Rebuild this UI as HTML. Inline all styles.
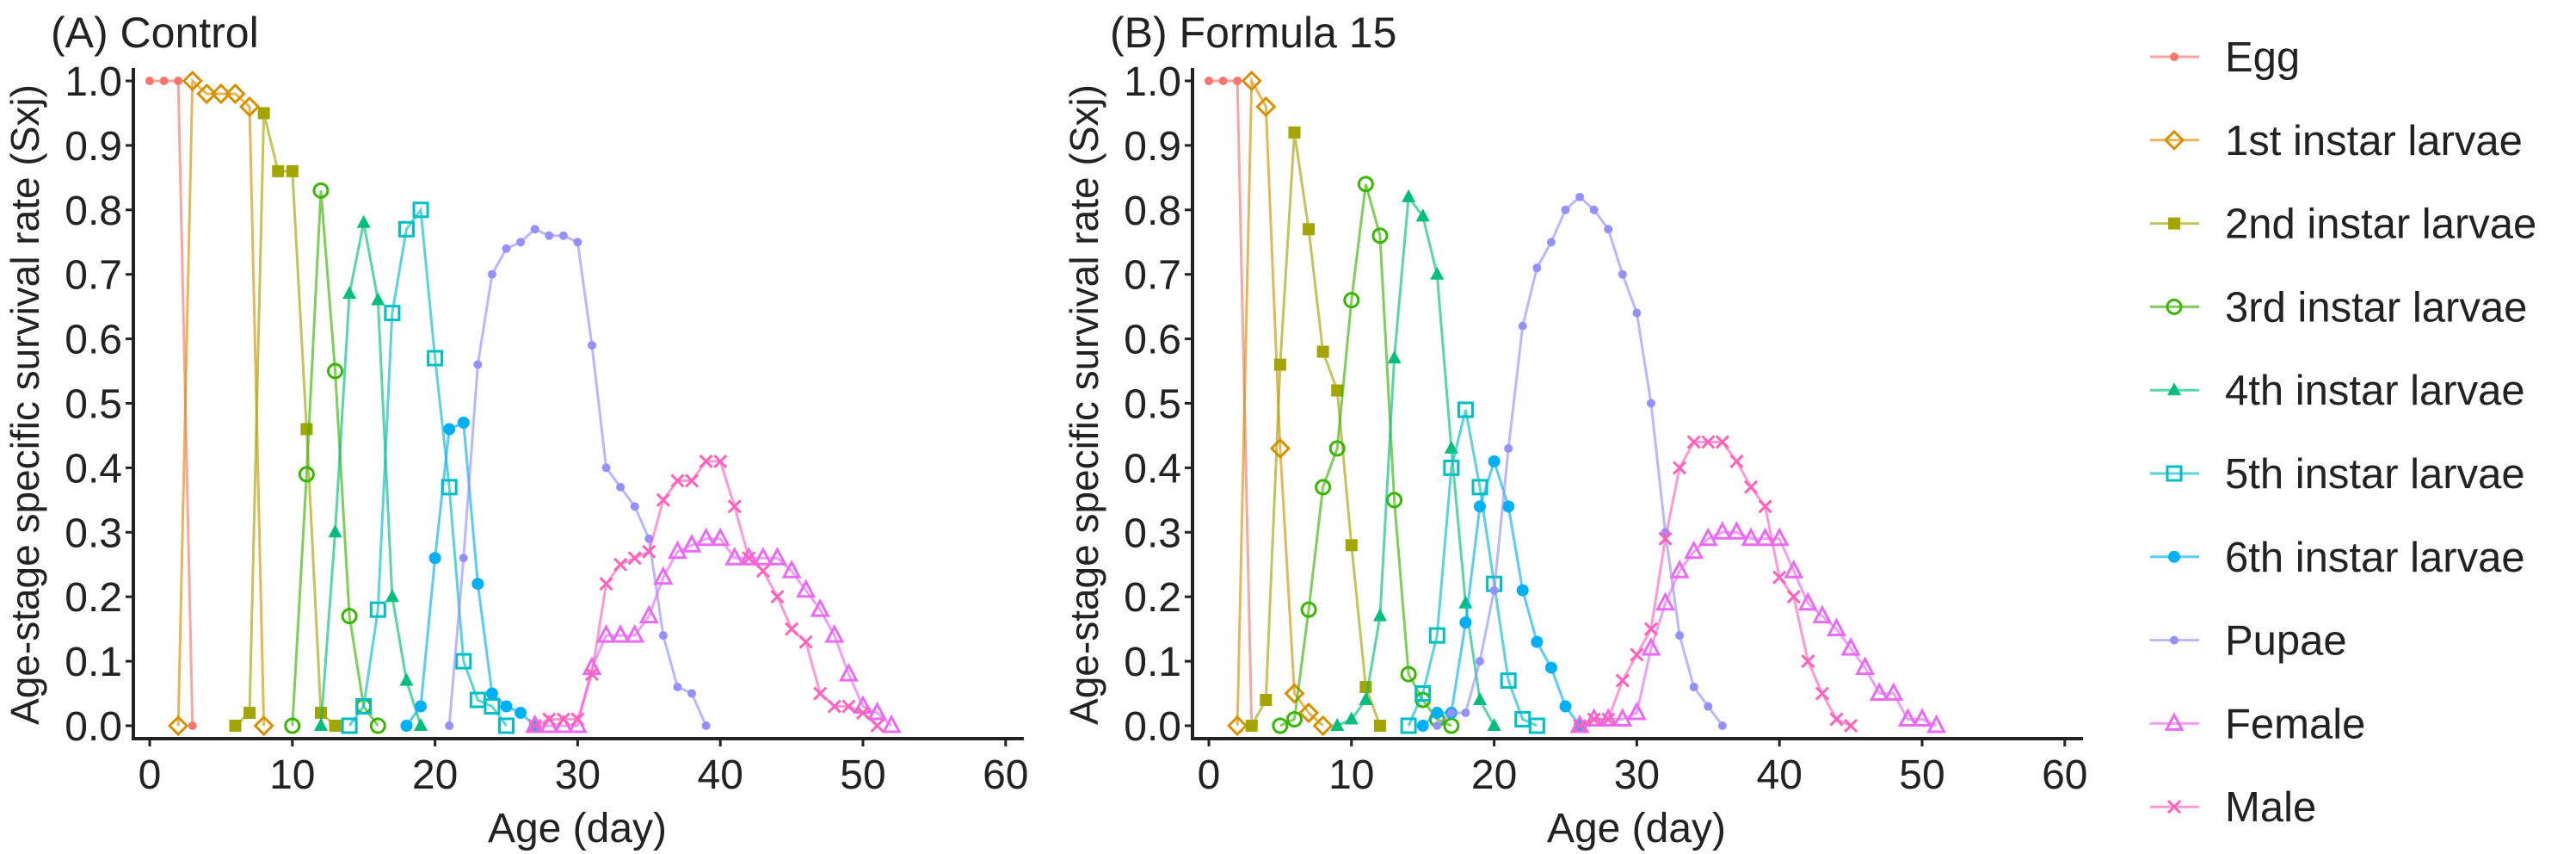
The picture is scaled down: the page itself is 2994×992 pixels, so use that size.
<!DOCTYPE html>
<html><head><meta charset="utf-8"><style>
html,body{margin:0;padding:0;background:#fff;}
svg{display:block;font-family:"Liberation Sans",Arial,sans-serif;}
</style></head><body>
<svg id="chart" width="2994" height="992" viewBox="0 0 2994 992" xmlns="http://www.w3.org/2000/svg"></svg>
<script>
// ---- data ----
const stages = ["Egg","1st instar larvae","2nd instar larvae","3rd instar larvae","4th instar larvae","5th instar larvae","6th instar larvae","Pupae","Female","Male"];
const colors = ["#F8766D","#D89000","#A3A500","#39B600","#00BF7D","#00BFC4","#00B0F6","#9590FF","#E76BF3","#FF62BC"];
const shapes = ["dot","diamond","sqfill","circle","trifill","square","cirfill","dot","tri","x"];
const xTicks = [0,10,20,30,40,50,60];
const yTicks = [0,0.1,0.2,0.3,0.4,0.5,0.6,0.7,0.8,0.9,1.0];
const panelTitles = ["(A)  Control","(B)  Formula 15"];
// control: start day and values per stage
const ctrlStart = [0,2,6,10,12,14,18,21,27,27];
const ctrlEgg = [1,1,1,0];
const ctrlL1 = [0,1.0,0.98,0.98,0.98,0.96,0];
const ctrlL2 = [0,0.02,0.95,0.86,0.86,0.46,0.02,0];
const ctrlL3 = [0,0.39,0.83,0.55,0.17,0.03,0];
const ctrlL4 = [0,0.30,0.67,0.78,0.66,0.20,0.07,0];
const ctrlL5 = [0,0.03,0.18,0.64,0.77,0.80,0.57,0.37,0.10,0.04,0.03,0];
const ctrlL6 = [0,0.03,0.26,0.46,0.47,0.22,0.05,0.03,0.02,0];
const ctrlPupa = [0,0.26,0.56,0.70,0.74,0.75,0.77,0.76,0.76,0.75,0.59,0.40,0.37,0.34,0.29,0.14,0.06,0.05,0];
const ctrlFemale = [0,0,0,0,0.09,0.14,0.14,0.14,0.17,0.23,0.27,0.28,0.29,0.29,0.26,0.26,0.26,0.26,0.24,0.21,0.18,0.14,0.08,0.03,0.02,0];
const ctrlMale = [0,0.01,0.01,0.01,0.08,0.22,0.25,0.26,0.27,0.35,0.38,0.38,0.41,0.41,0.34,0.26,0.24,0.20,0.15,0.13,0.05,0.03,0.03,0.02,0];
// formula 15
const f15Start = [0,2,3,5,9,14,15,16,26,26];
const f15Egg = [1,1,1,0];
const f15L1 = [0,1.0,0.96,0.43,0.05,0.02,0];
const f15L2 = [0,0.04,0.56,0.92,0.77,0.58,0.52,0.28,0.06,0];
const f15L3 = [0,0.01,0.18,0.37,0.43,0.66,0.84,0.76,0.35,0.08,0.04,0.01,0];
const f15L4 = [0,0.01,0.04,0.17,0.57,0.82,0.79,0.70,0.43,0.19,0.04,0];
const f15L5 = [0,0.05,0.14,0.40,0.49,0.37,0.22,0.07,0.01,0];
const f15L6 = [0,0.02,0.02,0.16,0.34,0.41,0.34,0.21,0.13,0.09,0.03,0];
const f15Pupa = [0,0.02,0.02,0.10,0.21,0.43,0.62,0.71,0.75,0.80,0.82,0.80,0.77,0.70,0.64,0.50,0.30,0.14,0.06,0.03,0];
const f15Female = [0,0.01,0.01,0.01,0.02,0.12,0.19,0.24,0.27,0.29,0.30,0.30,0.29,0.29,0.29,0.24,0.19,0.17,0.15,0.12,0.09,0.05,0.05,0.01,0.01,0];
const f15Male = [0,0.01,0.01,0.07,0.11,0.15,0.29,0.40,0.44,0.44,0.44,0.41,0.37,0.34,0.23,0.20,0.10,0.05,0.01,0];

const panels = [
  {x0:174, start:ctrlStart, series:[ctrlEgg,ctrlL1,ctrlL2,ctrlL3,ctrlL4,ctrlL5,ctrlL6,ctrlPupa,ctrlFemale,ctrlMale]},
  {x0:1405, start:f15Start, series:[f15Egg,f15L1,f15L2,f15L3,f15L4,f15L5,f15L6,f15Pupa,f15Female,f15Male]}
];
const NS="http://www.w3.org/2000/svg";
const svg=document.getElementById('chart');
const DX=16.58, Y0=843, Y1=94;
function yS(v){return Y0-(Y0-Y1)*v;}
function mk(tag,attrs,parent){const e=document.createElementNS(NS,tag);for(const k in attrs)e.setAttribute(k,attrs[k]);(parent||svg).appendChild(e);return e;}
function marker(g,shape,cx,cy,col){
  let e;
  if(shape==="dot"){e=mk('circle',{cx:cx,cy:cy,r:5,fill:col},g);}
  else if(shape==="cirfill"){e=mk('circle',{cx:cx,cy:cy,r:7,fill:col},g);}
  else if(shape==="circle"){e=mk('circle',{cx:cx,cy:cy,r:8,fill:'none',stroke:col,'stroke-width':3},g);}
  else if(shape==="diamond"){e=mk('polygon',{points:`${cx},${cy-10} ${cx+10},${cy} ${cx},${cy+10} ${cx-10},${cy}`,fill:'none',stroke:col,'stroke-width':3},g);}
  else if(shape==="sqfill"){e=mk('rect',{x:cx-7,y:cy-7,width:14,height:14,fill:col},g);}
  else if(shape==="square"){e=mk('rect',{x:cx-8,y:cy-8,width:16,height:16,fill:'none',stroke:col,'stroke-width':3},g);}
  else if(shape==="trifill"){e=mk('polygon',{points:`${cx},${cy-9} ${cx+8},${cy+6} ${cx-8},${cy+6}`,fill:col},g);}
  else if(shape==="tri"){e=mk('polygon',{points:`${cx},${cy-10} ${cx+9},${cy+7} ${cx-9},${cy+7}`,fill:'none',stroke:col,'stroke-width':3},g);}
  else {e=mk('path',{d:`M${cx-7},${cy-7}L${cx+7},${cy+7}M${cx-7},${cy+7}L${cx+7},${cy-7}`,stroke:col,'stroke-width':3},g);}
  
  
}
panels.forEach((p,pi)=>{
  const g=mk('g',{});
  
  
  const xS=d=>p.x0+d*DX;
  const axL=p.x0-19;
  // axes
  const ya=mk('line',{x1:axL,y1:79,x2:axL,y2:858,stroke:'#222','stroke-width':4},g);
   
  const xa=mk('line',{x1:axL-2,y1:858,x2:p.x0+1016,y2:858,stroke:'#222','stroke-width':4},g);
   
  yTicks.forEach(v=>{
    mk('line',{x1:axL-9,y1:yS(v),x2:axL,y2:yS(v),stroke:'#222','stroke-width':3},g);
    const t=mk('text',{x:axL-13,y:yS(v)+17,'text-anchor':'end','font-size':48,fill:'#222'},g);
    t.textContent=v.toFixed(1);
     
  });
  xTicks.forEach(v=>{
    mk('line',{x1:xS(v),y1:858,x2:xS(v),y2:867,stroke:'#222','stroke-width':3},g);
    const t=mk('text',{x:xS(v),y:916,'text-anchor':'middle','font-size':48,fill:'#222'},g);
    t.textContent=v;
     
  });
  const xt=mk('text',{x:p.x0+497,y:978,'text-anchor':'middle','font-size':48,fill:'#222'},g);
  xt.textContent='Age (day)';
   
  const yt=mk('text',{x:0,y:0,'text-anchor':'middle','font-size':46,fill:'#222',transform:`translate(${p.x0-129},470) rotate(-90)`},g);
  yt.textContent='Age-stage specific survival rate (Sxj)';
   
  const pt=mk('text',{x:p.x0-115,y:55,'font-size':50,fill:'#222','xml:space':'preserve'},g);
  pt.textContent=panelTitles[pi];
   
  // series
  p.series.forEach((vals,si)=>{
    const sg=mk('g',{},g);
    
    
    const pts=vals.map((v,i)=>[xS(p.start[si]+i),yS(v)]);
    const ln=mk('polyline',{points:pts.map(q=>q.join(',')).join(' '),fill:'none',stroke:colors[si],'stroke-width':3,'stroke-opacity':0.65},sg);
     
    pts.forEach(q=>marker(sg,shapes[si],q[0],q[1],colors[si]));
  });
});
// legend
const lg=mk('g',{});
 
stages.forEach((s,i)=>{
  const y=66+i*96.8;
  const eg=mk('g',{},lg);
   
  mk('line',{x1:2499,y1:y,x2:2556,y2:y,stroke:colors[i],'stroke-width':3,'stroke-opacity':0.65},eg);
  marker(eg,shapes[i],2527,y,colors[i]);
  const t=mk('text',{x:2586,y:y+17,'font-size':49,fill:'#222'},eg);
  t.textContent=s;
   
});
</script>
</body></html>
